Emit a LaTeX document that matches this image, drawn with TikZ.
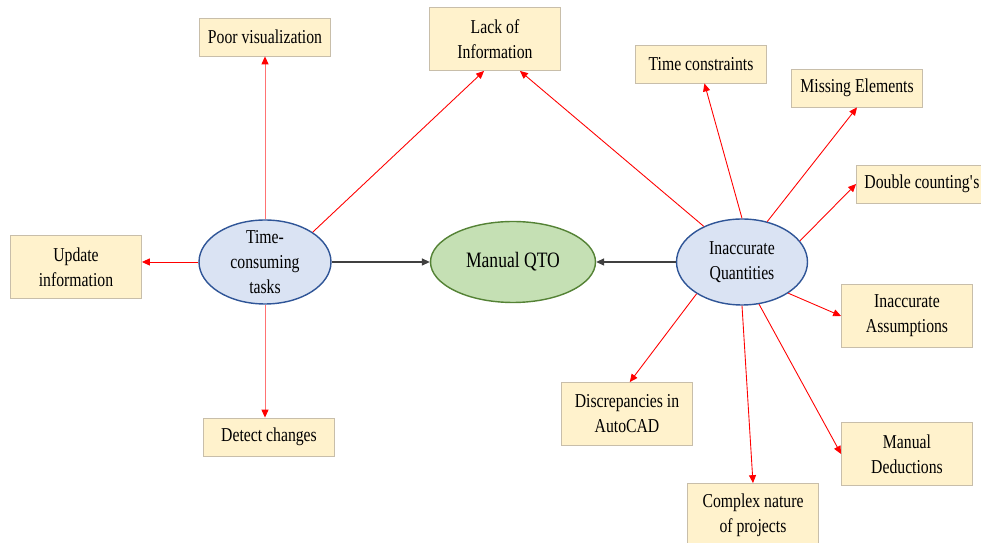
\documentclass[tikz,border=0pt]{standalone}
\usepackage{fontspec}
\setmainfont{Liberation Serif}[FakeStretch=0.8]
\usetikzlibrary{arrows.meta}
\usetikzlibrary{shapes.geometric}

\definecolor{boxfill}{HTML}{FFF2CC}
\definecolor{boxline}{RGB}{200,190,170}
\definecolor{causefill}{HTML}{DAE3F3}
\definecolor{causeline}{HTML}{2F5597}
\definecolor{qtofill}{HTML}{C5E0B4}
\definecolor{qtoline}{HTML}{548235}

\begin{document}
\begin{tikzpicture}[x=0.02cm, y=-0.02cm,
    issue/.style={draw=boxline, fill=boxfill, line width=0.5pt, minimum width=2.62cm,
        minimum height=0.76cm, inner sep=1pt, align=center,
        font=\fontsize{11.2}{14.2}\selectfont},
    tall/.style={issue, minimum height=1.26cm},
    cause/.style={ellipse, draw=causeline, fill=causefill, line width=0.8pt, inner sep=0pt},
    causetext/.style={align=center, font=\fontsize{11.2}{14.2}\selectfont},
    link/.style={red, line width=0.5pt, -{Triangle[length=4.5pt,width=4pt,red]}},
    faint/.style={link, draw=red!55},
    flow/.style={black!75, line width=0.6pt, -{Triangle[length=4.5pt,width=4pt]}}]

    \useasboundingbox (0,0) rectangle (981,543);

    \node[cause, qtoline, fill=qtofill, minimum width=3.3cm, minimum height=1.62cm,
        font=\fontsize{12.5}{15}\selectfont, text=black] (qto) at (513,262) {Manual QTO};
    \node[cause, minimum width=2.64cm, minimum height=1.68cm,
        label={[causetext]center:{Time-\\consuming\\tasks}}] (tc) at (265,262) {};
    \node[cause, minimum width=2.62cm, minimum height=1.72cm,
        label={[causetext]center:{Inaccurate\\Quantities}}] (iq) at (742,262) {};

    \node[issue] (poor) at (265,37) {Poor visualization};
    \node[tall] (lack) at (495,39) {Lack of\\Information};
    \node[tall] (update) at (76,267) {Update\\information};
    \node[issue] (detect) at (269,437) {Detect changes};
    \node[issue] (time) at (701,64) {Time constraints};
    \node[issue] (missing) at (857,88) {Missing Elements};
    \node[issue] (double) at (922,184) {Double counting\textquotesingle s};
    \node[tall] (assume) at (907,316) {Inaccurate\\Assumptions};
    \node[tall] (autocad) at (627,414) {Discrepancies in\\AutoCAD};
    \node[tall] (deduct) at (907,454) {Manual\\Deductions};
    \node[tall] (complex) at (753,515) {Complex nature\\of projects};

    \draw[flow] (tc.east) -- (qto.west);
    \draw[flow] (iq.west) -- (qto.east);

    \draw[faint] (tc) -- (poor);
    \draw[link] (tc.32) -- (lack.-109);
    \draw[link] (tc.west) -- (tc.west -| update.east);
    \draw[faint] (tc.south) -- (tc.south |- detect.north);

    \draw[link] (iq.137) -- (lack.-52);
    \draw[link] (iq.90) -- (time.-80);
    \draw[link] (iq.58) -- (missing.south);
    \draw[link] (iq.20) -- (double.west);
    \draw[link] (iq.-34) -- (assume.west);
    \draw[link] (iq.-145) -- (autocad.85);
    \draw[link] (iq.-90) -- (complex.north);
    \draw[link] (iq.-68) -- (deduct.west);
\end{tikzpicture}
\end{document}
